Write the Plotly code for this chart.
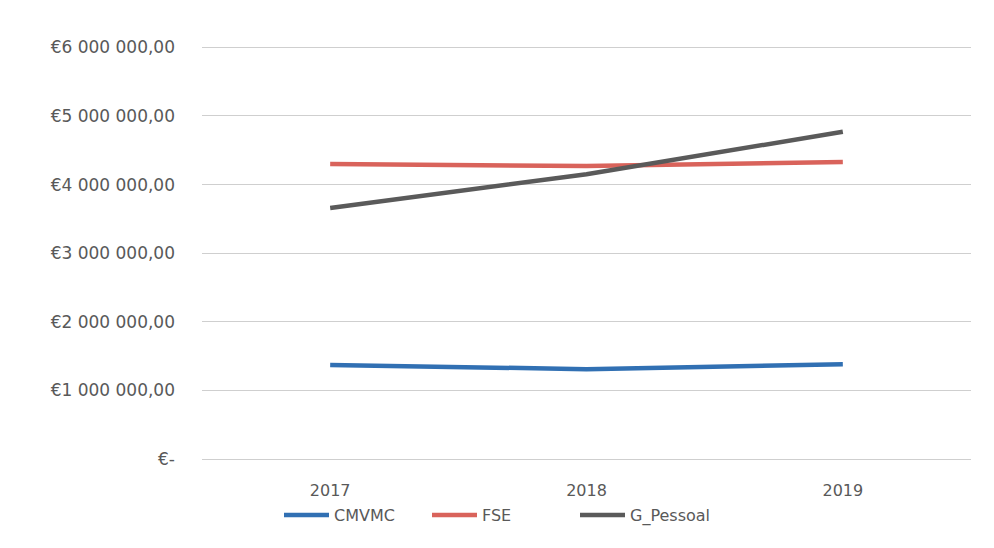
import plotly.graph_objects as go

years = ["2017", "2018", "2019"]
cmvmc = [1370000, 1310000, 1380000]
fse = [4300000, 4270000, 4330000]
g_pessoal = [3660000, 4150000, 4770000]

y_tickvals = [0, 1000000, 2000000, 3000000, 4000000, 5000000, 6000000]
y_ticktext = ["€-", "€1 000 000,00", "€2 000 000,00", "€3 000 000,00",
              "€4 000 000,00", "€5 000 000,00", "€6 000 000,00"]

series = [
    ("CMVMC", cmvmc, "#3170b3"),
    ("FSE", fse, "#d9635b"),
    ("G_Pessoal", g_pessoal, "#5a5a5a"),
]

fig = go.Figure()
for name, vals, col in series:
    fig.add_trace(go.Scatter(x=years, y=vals, name=name, mode="lines",
                             line=dict(color=col, width=4.5)))

fig.update_layout(
    width=986, height=540,
    paper_bgcolor="white", plot_bgcolor="white",
    margin=dict(l=194, r=23, t=38, b=89, autoexpand=False),
    font=dict(family="DejaVu Sans, sans-serif", size=17, color="#595959"),
    xaxis=dict(showgrid=False, showline=True, linecolor="#cfcfcf", linewidth=1,
               ticks="", tickfont=dict(size=16), ticklabelstandoff=17,
               range=[-0.5, 2.5], automargin=False),
    yaxis=dict(range=[0, 6020000], tickvals=y_tickvals, ticktext=y_ticktext,
               showgrid=True, gridcolor="#cfcfcf", gridwidth=1, zeroline=False,
               showline=False, ticks="", ticklabelstandoff=26, tickfont=dict(size=17),
               automargin=False),
    legend=dict(orientation="h", xref="container", x=0.5, xanchor="center",
                yref="container", y=0.061, yanchor="middle",
                font=dict(size=16), itemwidth=45,
                entrywidth=88, entrywidthmode="pixels"),
)

fig.write_html("out.html")
